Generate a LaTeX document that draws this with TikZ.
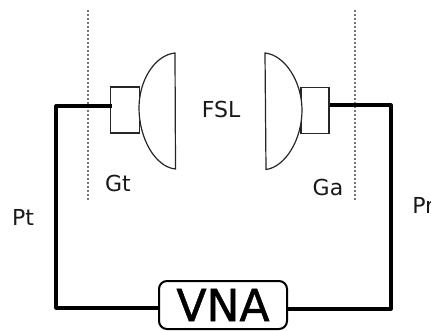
\documentclass[tikz,border=0pt]{standalone}
\usepackage{fontspec}
\setmainfont{DejaVu Sans}
\newfontfamily\vnafont[FakeBold=1.2]{DejaVu Sans}
\tikzset{
  px/.style={x=0.75pt,y=-0.75pt},
  part/.style={draw=black!85,line width=0.9pt,fill=white},
  wire/.style={draw=black,line width=2.4pt,line join=round},
  plane/.style={draw=black!55,line width=0.8pt,dash pattern=on 1.5pt off 1.5pt},
  lbl/.style={inner sep=0pt,font=\fontsize{16.5pt}{18pt}\selectfont,text=black!90},
  vnabox/.style={draw=black,line width=1.5pt,rounded corners=6pt,fill=white,minimum width=96pt,minimum height=36pt,inner sep=0pt,font=\vnafont\fontsize{33pt}{35pt}\selectfont}
}
\begin{document}
\begin{tikzpicture}[px]
\useasboundingbox (0,0) rectangle (431,331);
\clip (0,0) rectangle (431,331);
\coordinate (pt1) at (88,10); \coordinate (pt2) at (88,200);
\coordinate (pa1) at (355,10); \coordinate (pa2) at (355,200);
\draw[plane] (pt1) -- (pt2);
\draw[plane] (pa1) -- (pa2);
\node[part,minimum width=21.5pt,minimum height=34.5pt,inner sep=0pt] (ht) at (125,110) {};
\node[part,minimum width=21pt,minimum height=34pt,inner sep=0pt] (ha) at (315,110.5) {};
\path[part] (175,53) .. controls (155,55) and (139,80) .. (139,108) .. controls (139,138) and (155,167) .. (175.5,169) -- cycle;
\path[part] (265,53) .. controls (285,55) and (302,82) .. (302,110) .. controls (302,140) and (285,167) .. (266,169.5) -- cycle;
\node[vnabox] (vna) at (223,305) {VNA};
\coordinate (c1) at (56,106); \coordinate (c2) at (56,308);
\coordinate (c3) at (391,105); \coordinate (c4) at (391,309);
\coordinate (t) at (112,106); \coordinate (a) at (ha.east |- c3);
\draw[wire] (t) -- (c1) -- (c2) -- (c2 -| vna.west);
\draw[wire] (a) -- (c3) -- (c4) -- (c4 -| vna.east);
\node[lbl] (gt) at (118,183) {Gt};
\node[lbl] (fsl) at (221,109) {FSL};
\node[lbl] (ga) at (328,187) {Ga};
\node[lbl,anchor=west] (pr) at (412,205) {Pr};
\node[lbl] (pt) at (23,217) {Pt};
\end{tikzpicture}
\end{document}
